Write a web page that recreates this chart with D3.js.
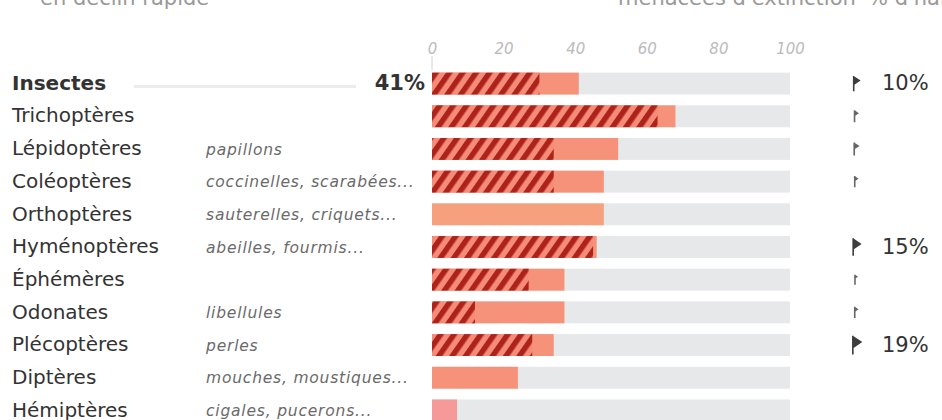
<!DOCTYPE html>
<html>
<head>
<meta charset="utf-8">
<script src="https://cdn.jsdelivr.net/npm/d3@7"></script>
<style>
  body { margin: 0; background: #fff; }
  svg { display: block; font-family: "DejaVu Sans", "Open Sans", sans-serif; }
</style>
</head>
<body>
<div id="vis"></div>
<script>
const categories = ["Insectes", "Trichoptères", "Lépidoptères", "Coléoptères", "Orthoptères",
  "Hyménoptères", "Éphémères", "Odonates", "Plécoptères", "Diptères", "Hémiptères"];
const examples = ["", "", "papillons", "coccinelles, scarabées...", "sauterelles, criquets...",
  "abeilles, fourmis...", "", "libellules", "perles", "mouches, moustiques...", "cigales, pucerons..."];
// % en déclin (barre pleine) et part en déclin rapide (hachures)
const declin = [41, 68, 52, 48, 48, 46, 37, 37, 34, 24, 7];
const declinRapide = [30, 63, 34, 34, 0, 45, 27, 12, 28, 0, 0];
// % menacées d'extinction
const menacees = [10, 4, 6, 3, 0, 15, 2, 3, 19, 0, 0];
const menaceesLabels = ["10%", "", "", "", "", "15%", "", "", "19%", "", ""];
const ticks = [0, 20, 40, 60, 80, 100];

const width = 942;
const height = 420;

const svg = d3.select("#vis").append("svg")
  .attr("width", width)
  .attr("height", height);

// hachures rouge foncé
const defs = svg.append("defs");
const pat = defs.append("pattern")
  .attr("id", "hatch")
  .attr("patternUnits", "userSpaceOnUse")
  .attr("width", 11)
  .attr("height", 11)
  .attr("patternTransform", "rotate(35)");
pat.append("rect").attr("width", 11).attr("height", 11).attr("fill", "#f58c78");
pat.append("rect").attr("width", 5.5).attr("height", 11).attr("fill", "#ad231c");

const x = d3.scaleLinear().domain([0, 100]).range([432, 790]);
const y = d3.scaleBand().domain(categories).range([71, 423]).paddingInner(0.33).paddingOuter(0.05);
const mid = (d) => y(d) + y.bandwidth() / 2;

// titres coupés en haut
svg.append("text").attr("x", 40).attr("y", 5)
  .attr("fill", "#999").style("font-size", "21px").text("en déclin rapide");
svg.append("text").attr("x", 618).attr("y", 5)
  .attr("fill", "#999").style("font-size", "21px").text("menacées d'extinction");
svg.append("text").attr("x", 868).attr("y", 5)
  .attr("fill", "#999").style("font-size", "21px").text("% d'habitat");

// axe du haut
const axis = svg.append("g")
  .attr("transform", "translate(0,54)")
  .call(d3.axisTop(x).tickValues(ticks).tickSize(0).tickPadding(0));
axis.select(".domain").remove();
axis.selectAll("text")
  .attr("fill", "#bbb")
  .style("font-size", "15px")
  .style("font-style", "italic")
  .style("font-family", "'DejaVu Sans', sans-serif");
svg.append("line")
  .attr("x1", x(0)).attr("x2", x(0))
  .attr("y1", 56).attr("y2", 70)
  .attr("stroke", "#d0d0d0");

const rows = svg.selectAll(".row")
  .data(categories)
  .enter()
  .append("g")
  .attr("class", "row");

// fond gris
rows.append("rect")
  .attr("x", x(0))
  .attr("y", (d) => y(d))
  .attr("width", x(100) - x(0))
  .attr("height", y.bandwidth())
  .attr("fill", "#e7e8ea");

// barre déclin
rows.append("rect")
  .attr("x", x(0))
  .attr("y", (d) => y(d))
  .attr("width", (d, i) => x(declin[i]) - x(0))
  .attr("height", y.bandwidth())
  .attr("fill", (d, i) => (i == 4 ? "#f6a07e" : i == 10 ? "#f59a98" : "#f7927a"));

// part déclin rapide
rows.append("rect")
  .attr("x", x(0))
  .attr("y", (d) => y(d))
  .attr("width", (d, i) => x(declinRapide[i]) - x(0))
  .attr("height", y.bandwidth())
  .attr("fill", "url(#hatch)");

// noms
rows.append("text")
  .attr("x", 12)
  .attr("y", (d) => mid(d) - 1)
  .attr("dy", "0.36em")
  .attr("fill", "#333")
  .style("font-size", "20px")
  .style("font-weight", (d, i) => (i == 0 ? "bold" : "normal"))
  .text((d) => d);

// exemples
rows.append("text")
  .attr("x", 206)
  .attr("y", mid)
  .attr("dy", "0.36em")
  .attr("fill", "#6a6a6a")
  .style("font-size", "15.5px")
  .style("font-style", "italic")
  .style("letter-spacing", "0.8px")
  .text((d, i) => examples[i]);

// ligne légère et 41%
svg.append("line")
  .attr("x1", 134).attr("x2", 356)
  .attr("y1", mid(categories[0]) + 3)
  .attr("y2", mid(categories[0]) + 3)
  .attr("stroke", "#ececec").attr("stroke-width", 3);
svg.append("text")
  .attr("x", 425)
  .attr("y", mid(categories[0]) - 1)
  .attr("dy", "0.36em")
  .attr("text-anchor", "end")
  .attr("fill", "#333")
  .style("font-size", "21px")
  .style("font-weight", "bold")
  .text(declin[0] + "%");

// menacées d'extinction : petits marqueurs
const s = d3.scaleSqrt().domain([0, 20]).range([0, 6.5]);
rows.append("path")
  .attr("d", (d, i) => {
    const r = s(menacees[i]);
    if (!r) return null;
    const cx = 856, cy = mid(d) - 3;
    return `M${cx - r * 0.5},${cy - r}L${cx + r},${cy}L${cx - r * 0.5},${cy + r}Z` +
      `M${cx - r * 0.5 - 0.8},${cy - r}L${cx - r * 0.5 + 0.8},${cy - r}L${cx - r * 0.5 + 0.8},${cy + r + 6}L${cx - r * 0.5 - 0.8},${cy + r + 6}Z`;
  })
  .attr("fill", "#333")
  .attr("opacity", (d, i) => (menaceesLabels[i] ? 0.95 : 0.75));

rows.append("text")
  .attr("x", 882)
  .attr("y", (d) => mid(d) - 1)
  .attr("dy", "0.36em")
  .attr("fill", "#333")
  .style("font-size", "21px")
  .text((d, i) => menaceesLabels[i]);
</script>
</body>
</html>
